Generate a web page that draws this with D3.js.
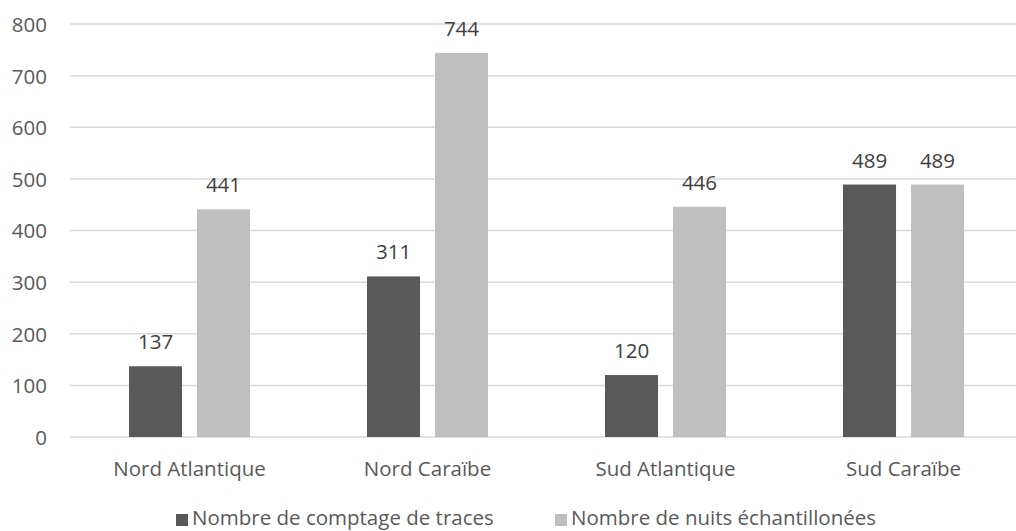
<!DOCTYPE html>
<html><head><meta charset="utf-8">
<script src="https://cdn.jsdelivr.net/npm/d3@7/dist/d3.min.js"></script>
<style>body{margin:0;background:#fff}svg{display:block}text{font-family:"Open Sans",sans-serif}</style>
</head><body><svg id="c" width="1016" height="531"></svg>
<script>
const categories = ["Nord Atlantique","Nord Caraïbe","Sud Atlantique","Sud Caraïbe"];
const seriesNames = ["Nombre de comptage de traces","Nombre de nuits échantillonées"];
const traces = [137,311,120,489];
const nuits = [441,744,446,489];
const yTicks = [0,100,200,300,400,500,600,700,800];
const colors = ["#595959","#bfbfbf"];

const svg = d3.select("#c");
const x0 = d3.scaleBand().domain(categories).range([70.5,1022.5]);
const x1 = d3.scaleBand().domain(seriesNames).range([-60.5,60.5]).paddingInner(0.22);
const y = d3.scaleLinear().domain([0,800]).range([437,24]);

svg.append("g").selectAll("line").data(yTicks).join("line")
  .attr("x1",70).attr("x2",1016).attr("y1",d=>y(d)).attr("y2",d=>y(d))
  .attr("stroke","#d9d9d9").attr("stroke-width",1.5);

const yAxis = d3.axisLeft(y).tickValues(yTicks).tickSize(0).tickPadding(0);
const ga = svg.append("g").attr("transform","translate(47,0)").call(yAxis);
ga.select(".domain").remove();
ga.selectAll("text").attr("fill","#595959").style("font-size","20.5px").style("font-family","'Open Sans',sans-serif").attr("dy","0.36em");

const xAxis = d3.axisBottom(x0).tickSize(0).tickPadding(0);
const gx = svg.append("g").attr("transform","translate(0,476)").call(xAxis);
gx.select(".domain").remove();
gx.selectAll("text").attr("fill","#595959").style("font-size","20.5px").style("font-family","'Open Sans',sans-serif").attr("dy","0").attr("y",0);

const data = categories.map((c,i)=>({c, vals:[traces[i],nuits[i]]}));
const groups = svg.append("g").selectAll("g").data(data).join("g")
  .attr("transform",d=>`translate(${x0(d.c)+x0.bandwidth()/2},0)`);
groups.selectAll("rect").data(d=>d.vals.map((v,j)=>({v,s:seriesNames[j],j}))).join("rect")
  .attr("x",d=>x1(d.s)).attr("width",x1.bandwidth())
  .attr("y",d=>y(d.v)).attr("height",d=>y(0)-y(d.v))
  .attr("fill",d=>colors[d.j]);
groups.selectAll("text").data(d=>d.vals.map((v,j)=>({v,s:seriesNames[j],j}))).join("text")
  .attr("x",d=>x1(d.s)+x1.bandwidth()/2).attr("y",d=>y(d.v)-17)
  .attr("text-anchor","middle").attr("fill","#404040").style("font-size","20.5px")
  .text(d=>d.v);

const legX = [176,555];
const lg = svg.append("g").selectAll("g").data(seriesNames).join("g")
  .attr("transform",(d,i)=>`translate(${legX[i]},0)`);
lg.append("rect").attr("x",0).attr("y",514).attr("width",12).attr("height",12).attr("fill",(d,i)=>colors[i]);
lg.append("text").attr("x",16).attr("y",525).attr("fill","#595959").style("font-size","20.5px").text(d=>d);
</script></body></html>
